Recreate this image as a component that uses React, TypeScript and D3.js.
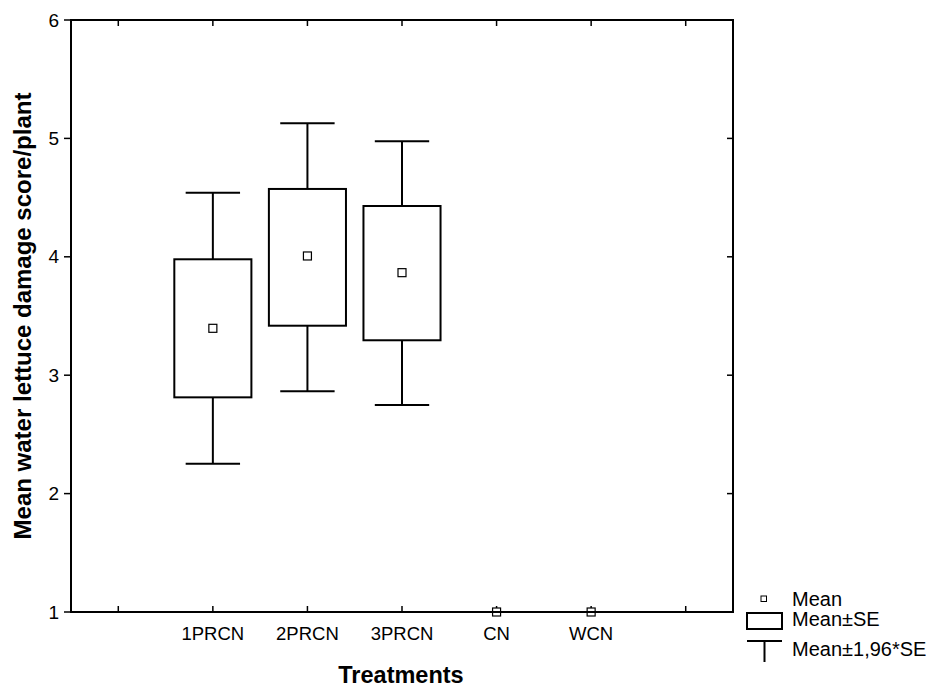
import React from "react";
import * as d3 from "d3";

const categories = ["1PRCN", "2PRCN", "3PRCN", "CN", "WCN"];
const means = [3.396, 4.007, 3.866, 1, 1];
const seLow = [2.813, 3.418, 3.295, 1, 1];
const seHigh = [3.979, 4.573, 4.429, 1, 1];
const ciLow = [2.253, 2.864, 2.748, 1, 1];
const ciHigh = [4.541, 5.128, 4.975, 1, 1];
const yTicks = [1, 2, 3, 4, 5, 6];
const legendLabels = ["Mean", "Mean±SE", "Mean±1,96*SE"];

const W = 935;
const H = 688;
const L = 71, R = 733, T = 20, B = 612;
const font = "'Liberation Sans', Arial, Helvetica, sans-serif";

export default function App() {
  const slots = ["_l", ...categories, "_r"];
  const x = d3.scaleBand<string>().domain(slots).range([L, R]).padding(0);
  const bw = x.bandwidth();
  const cx = (k: string) => (x(k) as number) + bw / 2;
  const y = d3.scaleLinear().domain([1, 6]).range([B, T]);
  const boxW = bw * 0.815;
  const capW = bw * 0.575;

  return (
    <svg width={W} height={H} style={{ position: "absolute", left: 0, top: 0, background: "#fff" }}>
      <rect x={0} y={0} width={W} height={H} fill="#fff" />
      {yTicks.map((t) => (
        <g key={"y" + t}>
          <line x1={L - 7} x2={L} y1={y(t)} y2={y(t)} stroke="#000" strokeWidth={1.5} />
          <line x1={R - 6} x2={R} y1={y(t)} y2={y(t)} stroke="#000" strokeWidth={1.5} />
          <text x={L - 12} y={y(t)} dy="0.35em" textAnchor="end" fontFamily={font} fontSize={19} fill="#000">
            {t}
          </text>
        </g>
      ))}
      {slots.map((s) => (
        <g key={"x" + s}>
          <line x1={cx(s)} x2={cx(s)} y1={B} y2={B - 6} stroke="#000" strokeWidth={1.5} />
          <line x1={cx(s)} x2={cx(s)} y1={T} y2={T + 6} stroke="#000" strokeWidth={1.5} />
        </g>
      ))}
      {categories.map((c) => (
        <text key={"xl" + c} x={cx(c)} y={B + 28} textAnchor="middle" fontFamily={font} fontSize={18.5} fill="#000">
          {c}
        </text>
      ))}
      {categories.map((c, i) => {
        const m = cx(c);
        return (
          <g key={"b" + c} stroke="#000" fill="none" strokeWidth={2}>
            <line x1={m} x2={m} y1={y(ciHigh[i])} y2={y(seHigh[i])} />
            <line x1={m} x2={m} y1={y(seLow[i])} y2={y(ciLow[i])} />
            <line x1={m - capW / 2} x2={m + capW / 2} y1={y(ciHigh[i])} y2={y(ciHigh[i])} />
            <line x1={m - capW / 2} x2={m + capW / 2} y1={y(ciLow[i])} y2={y(ciLow[i])} />
            <rect x={m - boxW / 2} y={y(seHigh[i])} width={boxW} height={y(seLow[i]) - y(seHigh[i])} />
            <rect x={m - 4} y={y(means[i]) - 4} width={8} height={8} strokeWidth={1.2} fill="#fff" />
          </g>
        );
      })}
      <rect x={L} y={T} width={R - L} height={B - T} fill="none" stroke="#000" strokeWidth={2} />
      <text x={401} y={683} textAnchor="middle" fontFamily={font} fontSize={23.5} fontWeight="bold" fill="#000">
        Treatments
      </text>
      <text
        transform={`translate(31,316) rotate(-90)`}
        textAnchor="middle"
        fontFamily={font}
        fontSize={24}
        fontWeight="bold"
        fill="#000"
      >
        Mean water lettuce damage score/plant
      </text>
      <g fontFamily={font} fontSize={20} fill="#000">
        <rect x={761} y={596} width={5.5} height={5.5} fill="#fff" stroke="#000" strokeWidth={1} />
        <text x={792} y={606}>{legendLabels[0]}</text>
        <rect x={747} y={613} width={35} height={16} fill="none" stroke="#000" strokeWidth={2} />
        <text x={792} y={626}>{legendLabels[1]}</text>
        <line x1={747} x2={782} y1={641} y2={641} stroke="#000" strokeWidth={2} />
        <line x1={764.5} x2={764.5} y1={641} y2={662} stroke="#000" strokeWidth={2} />
        <text x={792} y={656}>{legendLabels[2]}</text>
      </g>
    </svg>
  );
}
